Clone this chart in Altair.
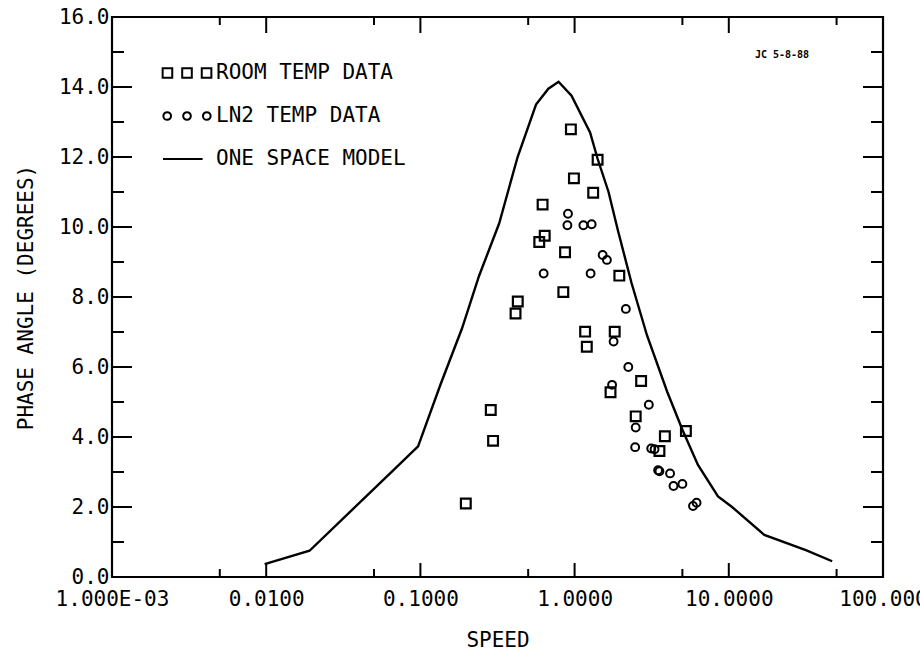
import altair as alt
import pandas as pd

# ---------------- data ----------------
room_speed = [0.946, 1.41, 0.99, 1.32, 0.62, 0.64, 0.59, 0.867, 1.95, 0.845, 0.428, 0.414,
              1.17, 1.82, 1.20, 1.71, 2.70, 2.49, 0.286, 0.296, 3.85, 3.55, 5.27, 0.197]
room_phase = [12.79, 11.92, 11.39, 10.98, 10.64, 9.75, 9.57, 9.28, 8.61, 8.14, 7.87, 7.53,
              7.01, 7.01, 6.58, 5.28, 5.60, 4.59, 4.77, 3.89, 4.02, 3.60, 4.17, 2.10]

ln2_speed = [0.906, 0.898, 1.14, 1.29, 1.52, 1.62, 0.63, 1.27, 2.15, 1.79, 2.23, 1.75,
             3.03, 2.49, 2.47, 3.14, 3.30, 3.48, 3.55, 4.16, 4.38, 5.00, 5.86, 6.18]
ln2_phase = [10.38, 10.05, 10.05, 10.08, 9.20, 9.06, 8.67, 8.67, 7.66, 6.73, 6.00, 5.49,
             4.92, 4.27, 3.71, 3.67, 3.65, 3.05, 3.02, 2.96, 2.60, 2.66, 2.03, 2.12]

model_speed = [0.00977, 0.0191, 0.0355, 0.0661, 0.0966, 0.135, 0.186, 0.240, 0.324, 0.427,
               0.562, 0.676, 0.787, 0.955, 1.26, 1.41, 1.66, 1.91, 2.34, 2.95, 3.98, 5.01,
               6.31, 8.51, 10.5, 17.0, 31.6, 46.8]
model_phase = [0.37, 0.75, 1.89, 3.03, 3.73, 5.5, 7.1, 8.6, 10.1, 12.0,
               13.5, 13.95, 14.15, 13.75, 12.7, 11.95, 11.0, 9.9, 8.4, 6.9, 5.3, 4.2,
               3.2, 2.3, 2.0, 1.2, 0.77, 0.45]

legend_labels = ["ROOM TEMP DATA", "LN2 TEMP DATA", "ONE SPACE MODEL"]

x_tick_values = [0.001, 0.01, 0.1, 1, 10, 100]
x_tick_labels = ["1.000E-03", "0.0100", "0.1000", "1.0000", "10.0000", "100.000"]
y_tick_values = [0, 2, 4, 6, 8, 10, 12, 14, 16]

x_major_ticks = [0.01, 0.1, 1, 10]
x_minor_ticks = [0.005, 0.05, 0.5, 5, 50]
y_major_ticks = [2, 4, 6, 8, 10, 12, 14]
y_minor_ticks = [1, 3, 5, 7, 9, 11, 13, 15]

# ---------------- layout ----------------
W, H = 771, 560
FONT = "DejaVu Sans Mono"

label_expr = " : ".join(
    [f"datum.value < {v * 1.5} ? '{t}'" for v, t in zip(x_tick_values[:-1], x_tick_labels[:-1])]
) + f" : '{x_tick_labels[-1]}'"

xscale = alt.Scale(type="log", domain=[0.001, 100], nice=False)
yscale = alt.Scale(domain=[0, 16], nice=False, zero=False)

xaxis = alt.Axis(values=x_tick_values, labelExpr=label_expr, ticks=False, tickSize=0,
                 domain=False, grid=False, labelFlush=False, labelOverlap=False,
                 labelFont=FONT, labelFontSize=21, labelColor="black", labelPadding=11,
                 title="SPEED", titleFont=FONT, titleFontSize=21, titleFontWeight="normal",
                 titleColor="black", titleY=63, titleBaseline="middle")
yaxis = alt.Axis(values=y_tick_values, format=".1f", ticks=False, tickSize=0,
                 domain=False, grid=False, labelOverlap=False, labelFlush=False,
                 labelFont=FONT, labelFontSize=21, labelColor="black", labelPadding=3,
                 title="PHASE ANGLE (DEGREES)", titleFont=FONT, titleFontSize=21,
                 titleFontWeight="normal", titleColor="black",
                 titleX=-86, titleY=H / 2, titleAlign="center", titleBaseline="middle")


def X(field):
    return alt.X(f"{field}:Q", scale=xscale, axis=xaxis)


def Y(field):
    return alt.Y(f"{field}:Q", scale=yscale, axis=yaxis)


room_df = pd.DataFrame({"speed": room_speed, "phase": room_phase})
ln2_df = pd.DataFrame({"speed": ln2_speed, "phase": ln2_phase})
model_df = pd.DataFrame({"speed": model_speed, "phase": model_phase})

model = alt.Chart(model_df).mark_line(color="black", strokeWidth=2.4).encode(
    x=X("speed"), y=Y("phase"), order=alt.Order("speed:Q"))

room = alt.Chart(room_df).mark_point(shape="square", size=95, filled=False,
                                     color="black", strokeWidth=2.2, opacity=1).encode(
    x=X("speed"), y=Y("phase"))

ln2 = alt.Chart(ln2_df).mark_point(shape="circle", size=62, filled=False,
                                   color="black", strokeWidth=2.0, opacity=1).encode(
    x=X("speed"), y=Y("phase"))

# legend symbols: three squares, three circles, a line (unit = 12 px)
sq = "M-2.03,-0.4H-1.23V0.4H-2.03Z M-0.4,-0.4H0.4V0.4H-0.4Z M1.23,-0.4H2.03V0.4H1.23Z"


def circ(cx, r=0.32):
    return (f"M{cx + r},0A{r},{r} 0 1,1 {cx - r},0A{r},{r} 0 1,1 {cx + r},0Z")


ci = " ".join(circ(c) for c in (-1.65, 0, 1.65))
ln = "M-2.0,0H1.3"

legend_df = pd.DataFrame({"series": legend_labels,
                          "speed": [1e-6] * 3, "phase": [1.0] * 3})
legend_layer = alt.Chart(legend_df).mark_point(filled=False, color="black", opacity=0,
                                               clip=True).encode(
    x=X("speed"), y=Y("phase"),
    shape=alt.Shape("series:N",
                    scale=alt.Scale(domain=legend_labels, range=[sq, ci, ln]),
                    legend=alt.Legend(orient="none", legendX=62, legendY=43, title=None,
                                      symbolSize=576, symbolStrokeColor="black",
                                      symbolFillColor="transparent", symbolStrokeWidth=2,
                                      symbolOpacity=1, labelFont=FONT, labelFontSize=21,
                                      labelColor="black", labelOffset=16, labelLimit=400,
                                      rowPadding=20, padding=0)))

# inward tick marks on all four sides
ymaj = pd.DataFrame({"v": y_major_ticks})
ymin = pd.DataFrame({"v": y_minor_ticks})
xmaj = pd.DataFrame({"v": x_major_ticks})
xmin = pd.DataFrame({"v": x_minor_ticks})

tick_layers = []
for df, ln_ in ((ymaj, 20), (ymin, 12)):
    tick_layers.append(alt.Chart(df).mark_rule(color="black", strokeWidth=2).encode(
        y=Y("v"), x=alt.value(0), x2=alt.value(ln_)))
    tick_layers.append(alt.Chart(df).mark_rule(color="black", strokeWidth=2).encode(
        y=Y("v"), x=alt.value(W), x2=alt.value(W - ln_)))
for df, lb, lt in ((xmaj, 14, 16), (xmin, 8, 8)):
    tick_layers.append(alt.Chart(df).mark_rule(color="black", strokeWidth=2).encode(
        x=X("v"), y=alt.value(H), y2=alt.value(H - lb)))
    tick_layers.append(alt.Chart(df).mark_rule(color="black", strokeWidth=2).encode(
        x=X("v"), y=alt.value(0), y2=alt.value(lt)))

stamp = alt.Chart(pd.DataFrame({"t": ["JC 5-8-88"]})).mark_text(
    font=FONT, fontSize=10, fontWeight="bold", color="black", align="center",
    baseline="middle").encode(text="t:N", x=alt.value(670), y=alt.value(38))

chart = alt.layer(*tick_layers, model, room, ln2, legend_layer, stamp).properties(
    width=W, height=H,
    autosize=alt.AutoSizeParams(type="none"),
    padding={"left": 112, "top": 17, "right": 920 - 112 - W, "bottom": 651 - 17 - H},
    background="white",
).configure_view(stroke="black", strokeWidth=2.2)

chart.save("out.html", embed_options={"renderer": "svg", "actions": False})
